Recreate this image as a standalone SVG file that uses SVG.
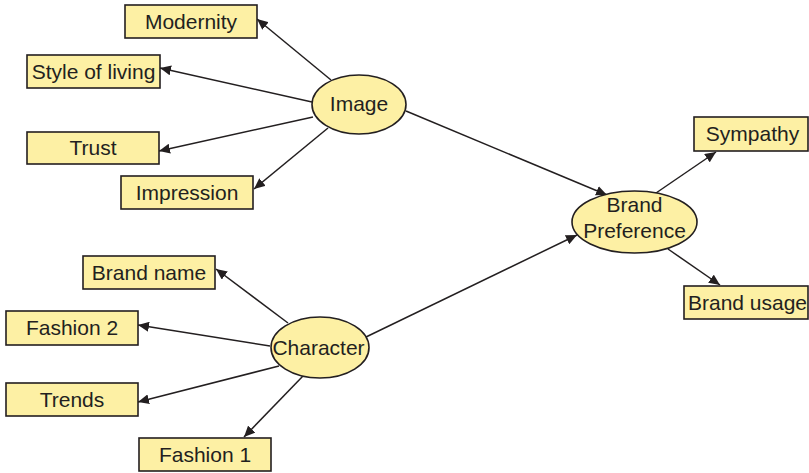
<svg xmlns="http://www.w3.org/2000/svg" width="809" height="473" viewBox="0 0 809 473">
<style>
.box{fill:#FDF0A4;stroke:#231F20;stroke-width:1.6}
.ell{fill:#FDF0A4;stroke:#231F20;stroke-width:1.6}
.t{font-family:"Liberation Sans",Arial,sans-serif;font-size:21px;fill:#231F20;text-anchor:middle}
.c{stroke:#231F20;stroke-width:1.5;fill:none;marker-end:url(#ah)}
</style>
<defs>
<marker id="ah" markerUnits="userSpaceOnUse" markerWidth="12" markerHeight="10" refX="11" refY="5" orient="auto">
<path d="M0,0 L11,5 L0,10 z" fill="#231F20"/>
</marker>
</defs>
<rect width="809" height="473" fill="#fff"/>
<g id="connectors">
<line class="c" x1="331" y1="80" x2="257" y2="19"/>
<line class="c" x1="312" y1="102" x2="160" y2="68"/>
<line class="c" x1="313" y1="117" x2="159" y2="151"/>
<line class="c" x1="328" y1="128" x2="254" y2="189"/>
<line class="c" x1="406" y1="111" x2="607" y2="195"/>
<line class="c" x1="288" y1="323" x2="216" y2="269"/>
<line class="c" x1="270" y1="346" x2="138" y2="325"/>
<line class="c" x1="279" y1="366" x2="138" y2="402"/>
<line class="c" x1="303" y1="376" x2="244" y2="437"/>
<line class="c" x1="366" y1="337" x2="577" y2="235"/>
<line class="c" x1="656" y1="193" x2="716" y2="152"/>
<line class="c" x1="668" y1="249" x2="720" y2="285"/>
</g>
<g id="modernity"><rect class="box" x="125" y="5" width="132" height="33"/><text class="t" x="191" y="28.5">Modernity</text></g>
<g id="style-of-living"><rect class="box" x="27" y="55" width="133" height="33"/><text class="t" x="93.5" y="78.5">Style of living</text></g>
<g id="trust"><rect class="box" x="27" y="132" width="132" height="32"/><text class="t" x="93" y="155">Trust</text></g>
<g id="impression"><rect class="box" x="121" y="176" width="132" height="33"/><text class="t" x="187" y="199.5">Impression</text></g>
<g id="image"><ellipse class="ell" cx="359" cy="104.5" rx="47" ry="29.5"/><text class="t" x="359" y="111">Image</text></g>
<g id="brand-name"><rect class="box" x="83" y="256" width="132" height="33"/><text class="t" x="149" y="279.5">Brand name</text></g>
<g id="fashion-2"><rect class="box" x="6" y="311" width="132" height="34"/><text class="t" x="72" y="335">Fashion 2</text></g>
<g id="trends"><rect class="box" x="6" y="383" width="132" height="33"/><text class="t" x="72" y="406.5">Trends</text></g>
<g id="fashion-1"><rect class="box" x="139" y="438" width="132" height="33"/><text class="t" x="205" y="461.5">Fashion 1</text></g>
<g id="character"><ellipse class="ell" cx="320" cy="347.5" rx="49" ry="30.5"/><text class="t" x="318.5" y="355">Character</text></g>
<g id="brand-preference"><ellipse class="ell" cx="634.5" cy="222" rx="62.5" ry="31"/><text class="t" x="634.5" y="212">Brand</text><text class="t" x="634.5" y="238">Preference</text></g>
<g id="sympathy"><rect class="box" x="694" y="117" width="114" height="34"/><text class="t" x="752.5" y="141">Sympathy</text></g>
<g id="brand-usage"><rect class="box" x="684" y="286" width="124" height="33"/><text class="t" x="747.5" y="309.5">Brand usage</text></g>
</svg>
